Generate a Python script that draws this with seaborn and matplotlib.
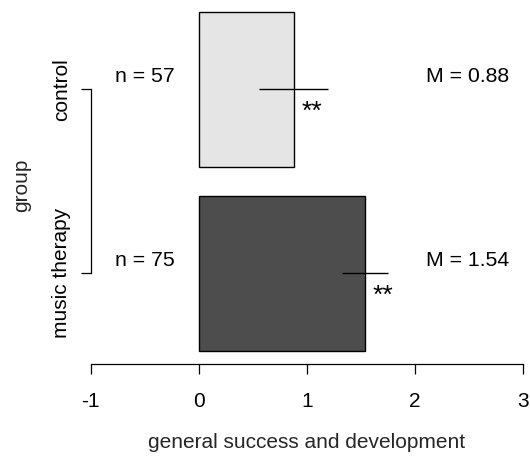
import matplotlib
matplotlib.use("Agg")
import matplotlib.pyplot as plt
import seaborn as sns
import pandas as pd

# group summaries
groups = ["control", "music therapy"]
means = [0.88, 1.54]
half_ci = [0.32, 0.21]
n_sizes = [57, 75]
stars = ["**", "**"]
bar_colors = ["#e5e5e5", "#4d4d4d"]
x_ticks = [-1, 0, 1, 2, 3]

sns.set_style("white")
plt.rcParams["font.family"] = ["Liberation Sans", "DejaVu Sans"]

fig = plt.figure(figsize=(5.3, 4.57), dpi=100)
ax = fig.add_axes([0.1626, 0.2035, 0.8323, 0.7823])

df = pd.DataFrame({"group": groups, "mean": means})
sns.barplot(data=df, x="mean", y="group", hue="group", order=groups,
            hue_order=groups, palette=bar_colors, width=0.84,
            edgecolor="black", linewidth=1.0, legend=False, errorbar=None,
            ax=ax)

ax.set_xlim(-1.04, 3.04)
ax.set_ylim(1.493, -0.45)

# confidence intervals, significance marks and annotations
for i, (m, h, n, s) in enumerate(zip(means, half_ci, n_sizes, stars)):
    ax.hlines(i, m - h, m + h, color="black", linewidth=1.0, zorder=5)
    ax.text(m + 0.07, i + 0.12, s, ha="left", va="center", fontsize=19,
            color="black")
    ax.text(-0.5, i - 0.067, f"n = {n}", ha="center", va="center",
            fontsize=15.3, color="black")
    ax.text(2.49, i - 0.067, f"M = {m:.2f}", ha="center", va="center",
            fontsize=15.3, color="black")

# R-style bracket axes
for side in ["top", "right"]:
    ax.spines[side].set_visible(False)
ax.spines["left"].set_position(("data", -1))
ax.spines["left"].set_bounds(0, 1)
ax.spines["bottom"].set_bounds(-1, 3)
for side in ["left", "bottom"]:
    ax.spines[side].set_linewidth(0.9)
    ax.spines[side].set_color("black")

ax.set_xticks(x_ticks)
ax.set_xticklabels([str(t) for t in x_ticks])
ax.tick_params(axis="both", direction="out", length=7.2, width=0.9,
               colors="black", labelsize=15, bottom=True, left=True)
ax.tick_params(axis="x", pad=13)
ax.tick_params(axis="y", pad=7)
for lab in ax.get_yticklabels():
    lab.set_rotation(90)
    lab.set_va("center")

ax.set_xlabel("general success and development", fontsize=15, labelpad=16)
ax.set_ylabel("group", fontsize=15, labelpad=15)

fig.savefig("out.png", dpi=100)
